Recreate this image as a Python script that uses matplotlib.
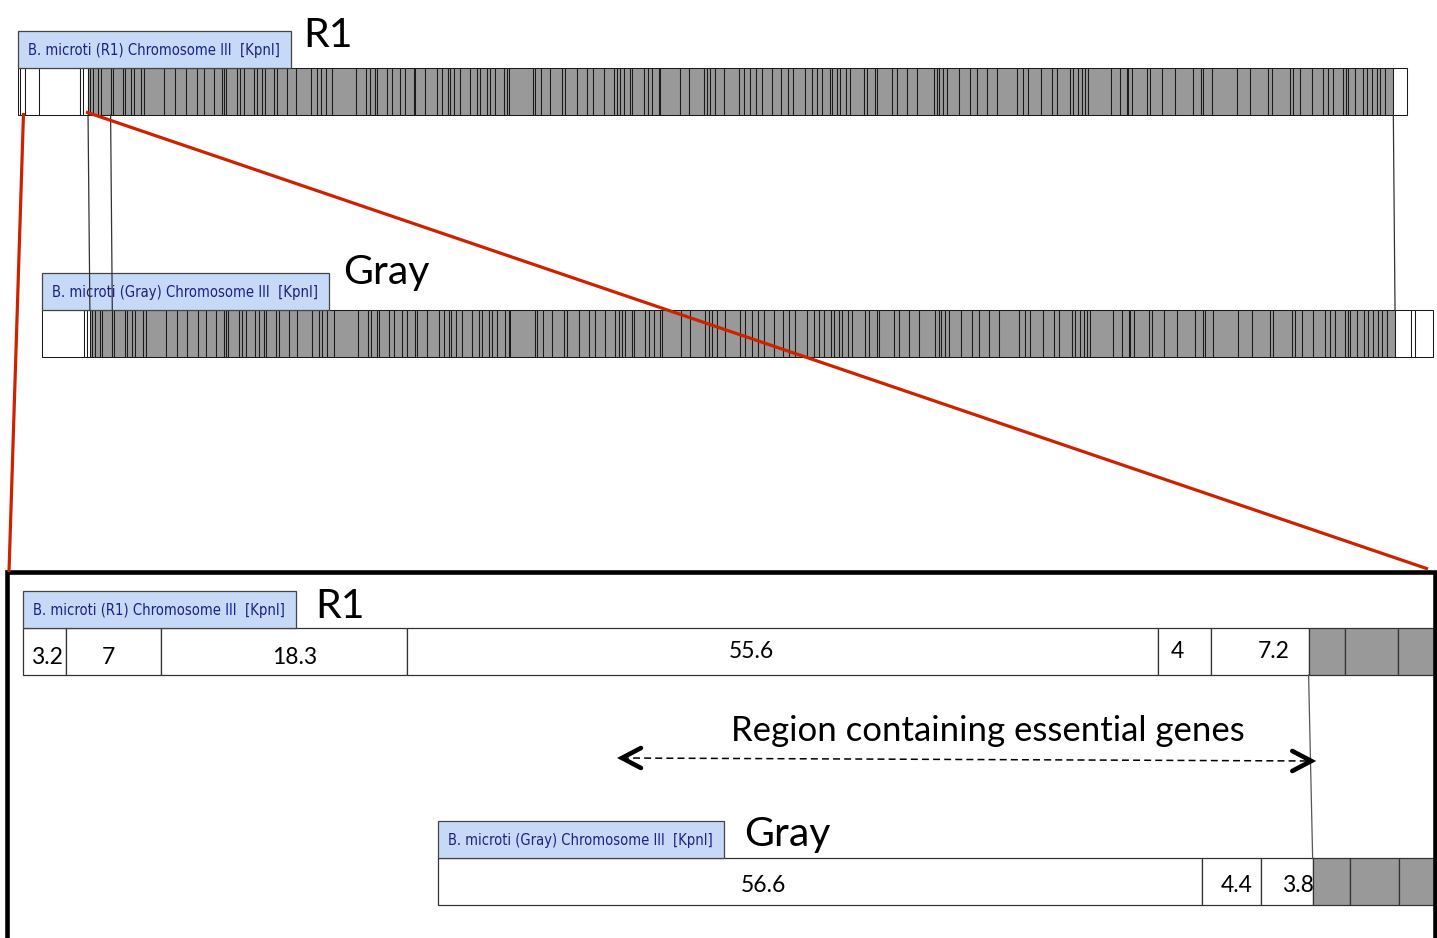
import matplotlib
matplotlib.use("Agg")
import matplotlib.pyplot as plt
from matplotlib.patches import Rectangle
from matplotlib import font_manager

W, H = 1437, 938

# ---- fragment sizes (kb) ----
R1_LEFT = [3.2, 7, 18.3, 55.6, 4, 7.2]      # unaligned end of R1 (white)
GRAY_LEFT = [56.6, 4.4, 3.8]                # unaligned end of Gray (white)
R1_FIRST = [2.7, 3.9]                       # first aligned fragments in R1
GRAY_FIRST = [2.8, 3.6]                     # first aligned fragments in Gray
ALIGNED = [7.1, 3.4, 13.6, 2.7, 14.6, 2.7, 7.2, 4.1,
           10.5, 3.5, 27.2, 15.0, 14.6, 15.0, 9.9, 13.6, 11.4, 2.2,
           3.3, 15.0, 3.5, 5.4, 13.2, 5.0, 6.8, 3.1, 12.6, 4.6,
           13.6, 11.3, 20.4, 9.1, 4.5, 6.8, 9.1, 33.0, 13.6, 4.5,
           7.8, 2.3, 13.6, 6.8, 11.3, 6.8, 11.3, 2.3, 13.6, 15.9,
           6.8, 7.6, 2.7, 6.4, 8.2, 13.6, 9.1, 4.5, 9.1, 4.5,
           6.8, 11.3, 4.6, 2.2, 33.6, 2.7, 7.8, 12.6, 15.9, 4.5,
           15.9, 13.6, 8.2, 14.4, 13.6, 4.6, 4.5, 4.5, 9.1, 2.3,
           15.8, 5.4, 6.0, 9.0, 2.3, 26.2, 12.2, 20.4, 5.0, 4.1,
           6.8, 11.3, 20.4, 6.8, 9.1, 8.2, 7.8, 13.6, 12.2, 9.0,
           7.8, 16.3, 9.1, 6.8, 6.8, 10.3, 3.3, 6.8, 4.5, 8.2,
           5.4, 18.1, 4.6, 11.3, 2.3, 20.8, 6.4, 14.0, 13.2, 22.6,
           4.6, 3.5, 5.4, 4.6, 16.7, 15.0, 9.9, 12.8, 13.6, 27.2,
           9.0, 6.8, 17.3, 14.6, 6.8, 18.1, 3.7, 7.6, 4.6, 4.5,
           4.5, 30.5, 12.6, 9.1, 1.8, 5.0, 20.8, 4.1, 15.9, 18.1,
           24.9, 10.1, 3.5, 11.4, 34.0, 18.1, 24.9, 4.6, 24.9, 4.5,
           9.1, 15.9, 15.8, 6.8, 6.8, 13.6, 3.7, 3.1, 9.1, 10.5,
           5.4, 6.8, 6.8, 4.5, 6.8, 11.3]
R1_RIGHT = [18.6]
GRAY_RIGHT = [21.4, 5.9, 24.9]

GRAY_OFFSET_TOP = 33.0     # kb, start of Gray map relative to R1 (overview)
GRAY_OFFSET_ZOOM = 30.8    # kb, same in the zoomed panel
ESSENTIAL = [44.4, 95.5]   # kb on R1, region containing essential genes
TOP_LINK_CUTS = [0, 5]     # aligned cut indices joined by lines in the overview

R1_LABEL_SHIFT = [0.2, -0.4, 0.8, -2.3, -0.5, 1.0]
R1_LABEL_Y = [658, 658, 658, 652, 652, 652]
GRAY_LABEL_SHIFT = [-4.2, 0.4, 0.8]
GRAY_LABEL_Y = [885, 885, 885]

# ---- style ----
SHADE = "#999999"
BOX_FILL = "#c6d9f6"
BOX_TEXT = "#1f1f86"
RED = "#cc2200"
NAME_FONT = "Lato"
BAR_H = 47
BOX_H = 37
plt.rcParams["lines.scale_dashes"] = False


def box_font():
    names = [(f.name, f.stretch) for f in font_manager.fontManager.ttflist]
    if any(n == "Liberation Sans Narrow" for n, _ in names):
        return {"family": "Liberation Sans Narrow"}
    if any(n == "DejaVu Sans" and s == "condensed" for n, s in names):
        return {"family": "DejaVu Sans", "stretch": "condensed"}
    return {"family": "DejaVu Sans"}


BOX_FONT = box_font()

fig = plt.figure(figsize=(W / 100, H / 100), dpi=100)
renderer = fig.canvas.get_renderer()


def px_axes(x0_px, scale, width_px=W):
    ax = fig.add_axes([0, 0, width_px / W, 1])
    ax.set_xlim(-x0_px / scale, (width_px - x0_px) / scale)
    ax.set_ylim(H, 0)
    ax.axis("off")
    ax.patch.set_visible(False)
    return ax


def draw_map(ax, scale, start, frags, shaded, bar_top, lw, ec):
    edges = [start]
    x = start
    for f, sh in zip(frags, shaded):
        ax.add_patch(Rectangle((x, bar_top), f, BAR_H, facecolor=SHADE if sh else "white",
                               edgecolor=ec, linewidth=lw, zorder=2))
        x += f
        edges.append(x)
    return edges


def draw_label(ax, scale, start, bar_top, box_w, text, name, name_dx, name_base):
    box_top = bar_top - BOX_H
    ax.add_patch(Rectangle((start, box_top), box_w / scale, BOX_H, facecolor=BOX_FILL,
                           edgecolor="#444444", linewidth=0.9, zorder=3))
    t = ax.text(start + 10 / scale, box_top + BOX_H / 2 + 1, text, ha="left", va="center",
                color=BOX_TEXT, fontsize=11, zorder=4, **BOX_FONT)
    target = box_w - 21
    wpx = t.get_window_extent(renderer).width
    t.set_fontsize(11 * target / wpx)
    ax.text(start + (box_w + name_dx) / scale, name_base, name, ha="left", va="baseline",
            fontsize=29.5, family=NAME_FONT, color="black", zorder=4)


r1_frags = R1_LEFT + R1_FIRST + ALIGNED + R1_RIGHT
r1_shaded = [False] * len(R1_LEFT) + [True] * (len(R1_FIRST) + len(ALIGNED)) + [False] * len(R1_RIGHT)
gr_frags = GRAY_LEFT + GRAY_FIRST + ALIGNED + GRAY_RIGHT
gr_shaded = [False] * len(GRAY_LEFT) + [True] * (len(GRAY_FIRST) + len(ALIGNED)) + [False] * len(GRAY_RIGHT)

# ---------------- overview (whole chromosome) ----------------
top_scale = (1407 - 18) / sum(r1_frags)
ax_top = px_axes(18, top_scale)
e_r1 = draw_map(ax_top, top_scale, 0, r1_frags, r1_shaded, 68, 0.75, "#1a1a1a")
e_gr = draw_map(ax_top, top_scale, GRAY_OFFSET_TOP, gr_frags, gr_shaded, 310, 0.75, "#1a1a1a")
draw_label(ax_top, top_scale, 0, 68, 273, "B. microti (R1) Chromosome III  [KpnI]", "R1", 12, 47)
draw_label(ax_top, top_scale, GRAY_OFFSET_TOP, 310, 287,
           "B. microti (Gray) Chromosome III  [KpnI]", "Gray", 14, 284)

i_r1 = len(R1_LEFT)
i_gr = len(GRAY_LEFT)
n_al = len(R1_FIRST) + len(ALIGNED)
for k in TOP_LINK_CUTS + [n_al]:
    ax_top.plot([e_r1[i_r1 + k], e_gr[i_gr + k]], [68 + BAR_H, 310], color="#333333",
                lw=0.9, zorder=5)

# ---------------- zoomed panel (left end) ----------------
zoom_scale = 13.49
ax_zoom = px_axes(23, zoom_scale, width_px=1434)
z_r1 = draw_map(ax_zoom, zoom_scale, 0, r1_frags[:12], r1_shaded[:12], 628, 0.9, "#333333")
z_gr = draw_map(ax_zoom, zoom_scale, GRAY_OFFSET_ZOOM, gr_frags[:10], gr_shaded[:10], 858, 0.9, "#333333")
draw_label(ax_zoom, zoom_scale, 0, 628, 273, "B. microti (R1) Chromosome III  [KpnI]", "R1", 19, 618)
draw_label(ax_zoom, zoom_scale, GRAY_OFFSET_ZOOM, 858, 286,
           "B. microti (Gray) Chromosome III  [KpnI]", "Gray", 20, 846)

for i, v in enumerate(R1_LEFT):
    ax_zoom.text((z_r1[i] + z_r1[i + 1]) / 2 + R1_LABEL_SHIFT[i], R1_LABEL_Y[i], f"{v:g}",
                 ha="center", va="center", fontsize=16.5, family=NAME_FONT, zorder=4)
for i, v in enumerate(GRAY_LEFT):
    ax_zoom.text((z_gr[i] + z_gr[i + 1]) / 2 + GRAY_LABEL_SHIFT[i], GRAY_LABEL_Y[i], f"{v:g}",
                 ha="center", va="center", fontsize=16.5, family=NAME_FONT, zorder=4)

ax_zoom.plot([z_r1[i_r1], z_gr[i_gr]], [628 + BAR_H, 858], color="#555555", lw=0.9, zorder=5)

# dashed double arrow for the essential-gene region
x0, x1 = ESSENTIAL
y0, y1 = 758, 761
ax_zoom.plot([x0, x1], [y0, y1], color="black", lw=1.1, ls=(0, (5, 3)), zorder=5)
head = 19 / zoom_scale
for tip, ty, d in [(x0, y0, 1), (x1, y1, -1)]:
    ax_zoom.plot([tip + d * head, tip, tip + d * head], [ty - 10, ty, ty + 10], color="black",
                 lw=3.3, solid_capstyle="round", solid_joinstyle="miter", zorder=5)
ax_zoom.text((x0 + x1) / 2 + 21 / zoom_scale, 731, "Region containing essential genes",
             ha="center", va="center", fontsize=25, family=NAME_FONT, zorder=5)

# ---------------- zoom frame and red guide lines ----------------
ov = fig.add_axes([0, 0, 1, 1])
ov.set_xlim(0, W)
ov.set_ylim(H, 0)
ov.axis("off")
ov.patch.set_visible(False)
ov.plot([7, 7, 1435, 1435], [H + 5, 572.5, 572.5, H + 5], color="black", lw=3.3,
        solid_joinstyle="miter", clip_on=False)
ov.plot([23.5, 9], [113, 572], color=RED, lw=2.3, solid_capstyle="butt")
ov.plot([86, 1428], [112, 569], color=RED, lw=2.3, solid_capstyle="butt")

fig.savefig("out.png", dpi=100)
